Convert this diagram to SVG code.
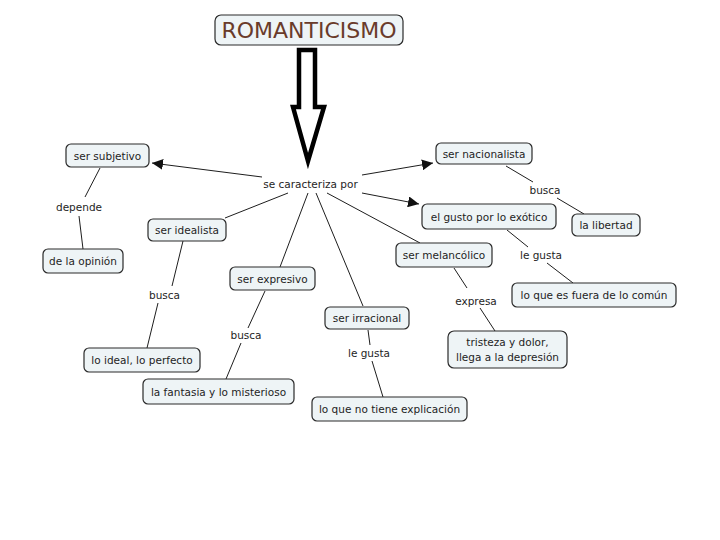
<svg xmlns="http://www.w3.org/2000/svg" width="720" height="540" viewBox="0 0 720 540">
<defs>
<marker id="ah" viewBox="0 0 10 10" refX="10" refY="5" markerWidth="11" markerHeight="11" markerUnits="userSpaceOnUse" orient="auto">
<path d="M0,0 L10,5 L0,10 Z" fill="#111"/>
</marker>
<style>
.n rect{fill:#eef4f6;stroke:#2a2a2a;stroke-width:1.2}
.t{font-family:"DejaVu Sans",Verdana,sans-serif;font-size:10.5px;fill:#1e1e1e;text-anchor:middle}
.c line{stroke:#1e1e1e;stroke-width:1}
</style>
</defs>
<rect width="720" height="540" fill="#fff"/>

<g id="romanticismo" class="n">
<rect x="215" y="15" width="188" height="30" rx="6"/>
<text x="309" y="38" font-family="DejaVu Sans, Verdana, sans-serif" font-size="22" fill="#6a3b2a" text-anchor="middle">ROMANTICISMO</text>
</g>
<g id="big-arrow">
<path d="M299,50 L315,50 L315,107 L324,107 L308,161 L293,107 L299,107 Z" fill="#fff" stroke="#000" stroke-width="4.5" stroke-linejoin="miter"/>
</g>

<g id="connectors" class="c">
<line x1="262" y1="177" x2="152" y2="163" marker-end="url(#ah)"/>
<line x1="362" y1="175" x2="433" y2="163" marker-end="url(#ah)"/>
<line x1="362" y1="193" x2="419" y2="204" marker-end="url(#ah)"/>
<line x1="288" y1="193" x2="225" y2="218"/>
<line x1="308" y1="193" x2="280" y2="267"/>
<line x1="316" y1="193" x2="363" y2="306"/>
<line x1="327" y1="193" x2="420" y2="243"/>
<line x1="100" y1="168" x2="85" y2="197"/>
<line x1="79" y1="216" x2="83" y2="249"/>
<line x1="183" y1="241" x2="172" y2="286"/>
<line x1="158" y1="303" x2="147" y2="348"/>
<line x1="265" y1="291" x2="248" y2="328"/>
<line x1="241" y1="343" x2="226" y2="379"/>
<line x1="368" y1="330" x2="370" y2="345"/>
<line x1="372" y1="361" x2="383" y2="397"/>
<line x1="506" y1="166" x2="533" y2="182"/>
<line x1="557" y1="198" x2="584" y2="214"/>
<line x1="507" y1="230" x2="528" y2="247"/>
<line x1="547" y1="263" x2="573" y2="283"/>
<line x1="454" y1="268" x2="467" y2="288"/>
<line x1="480" y1="308" x2="495" y2="331"/>
</g>

<g id="lbl-caracteriza"><text class="t" x="310.5" y="188">se caracteriza por</text></g>
<g id="lbl-depende"><text class="t" x="79" y="211">depende</text></g>
<g id="lbl-busca1"><text class="t" x="164.5" y="299">busca</text></g>
<g id="lbl-busca2"><text class="t" x="246" y="339">busca</text></g>
<g id="lbl-legusta1"><text class="t" x="369" y="357">le gusta</text></g>
<g id="lbl-busca3"><text class="t" x="545" y="194">busca</text></g>
<g id="lbl-legusta2"><text class="t" x="541" y="259">le gusta</text></g>
<g id="lbl-expresa"><text class="t" x="476" y="305">expresa</text></g>

<g id="ser-subjetivo" class="n"><rect x="66" y="144" width="83" height="23" rx="5"/><text class="t" x="107.5" y="159.5">ser subjetivo</text></g>
<g id="de-la-opinion" class="n"><rect x="43" y="249" width="80" height="24" rx="5"/><text class="t" x="83" y="265">de la opinión</text></g>
<g id="ser-idealista" class="n"><rect x="148" y="219" width="78" height="22" rx="5"/><text class="t" x="187" y="234">ser idealista</text></g>
<g id="ser-expresivo" class="n"><rect x="230" y="267" width="85" height="23" rx="5"/><text class="t" x="272.5" y="282.5">ser expresivo</text></g>
<g id="ser-irracional" class="n"><rect x="325" y="307" width="84" height="22" rx="5"/><text class="t" x="367" y="322">ser irracional</text></g>
<g id="lo-que-no-tiene" class="n"><rect x="312" y="397" width="155" height="24" rx="5"/><text class="t" x="389.5" y="413">lo que no tiene explicación</text></g>
<g id="lo-ideal" class="n"><rect x="84" y="348" width="116" height="24" rx="5"/><text class="t" x="142" y="364">lo ideal, lo perfecto</text></g>
<g id="la-fantasia" class="n"><rect x="143" y="379" width="151" height="25" rx="5"/><text class="t" x="218.5" y="395.5">la fantasia y lo misterioso</text></g>
<g id="ser-nacionalista" class="n"><rect x="436" y="143" width="96" height="21" rx="5"/><text class="t" x="484" y="157.5">ser nacionalista</text></g>
<g id="el-gusto" class="n"><rect x="422" y="204" width="134" height="25" rx="5"/><text class="t" x="489" y="220.5">el gusto por lo exótico</text></g>
<g id="la-libertad" class="n"><rect x="572" y="214" width="68" height="22" rx="5"/><text class="t" x="606" y="229">la libertad</text></g>
<g id="ser-melancolico" class="n"><rect x="396" y="243" width="96" height="24" rx="5"/><text class="t" x="444" y="259">ser melancólico</text></g>
<g id="lo-que-es-fuera" class="n"><rect x="512" y="283" width="164" height="24" rx="5"/><text class="t" x="594" y="299">lo que es fuera de lo común</text></g>
<g id="tristeza" class="n"><rect x="448" y="331" width="119" height="37" rx="6"/><text class="t" x="507.5" y="345.5">tristeza y dolor,</text><text class="t" x="507.5" y="360.5">llega a la depresión</text></g>
</svg>
